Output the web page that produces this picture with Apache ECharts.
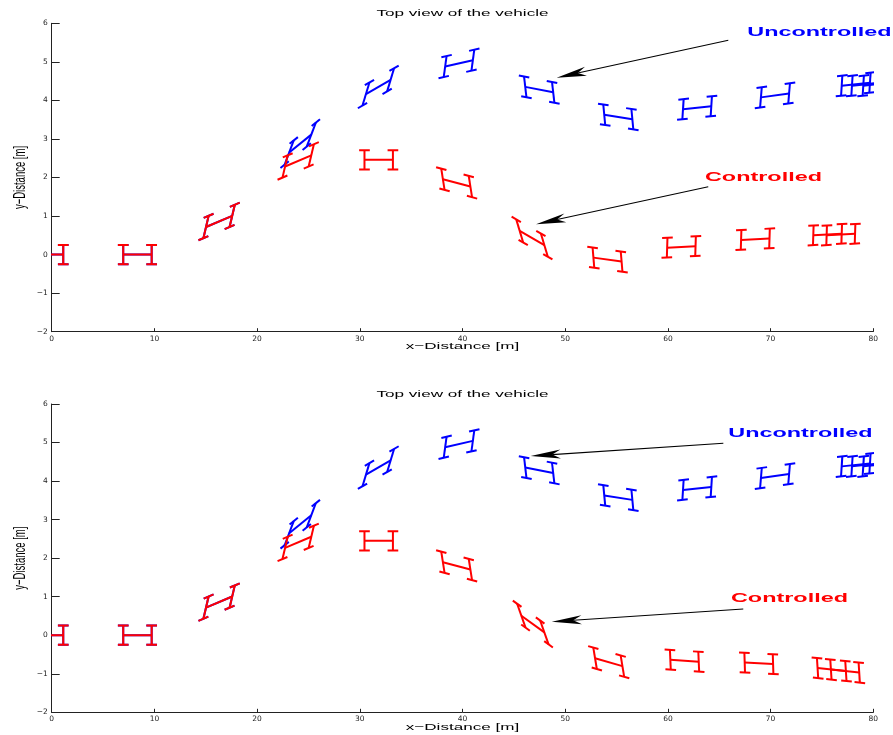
<!DOCTYPE html>
<html>
<head>
<meta charset="utf-8">
<script src="https://cdn.jsdelivr.net/npm/echarts@6/dist/echarts.min.js"></script>
<style>html,body{margin:0;padding:0;background:#fff}#c{width:893px;height:735px}</style>
</head>
<body>
<div id="c"></div>
<script>
// ---------- tick values ----------
const xTickValues = [0, 10, 20, 30, 40, 50, 60, 70, 80];
const yTickValues = [-2, -1, 0, 1, 2, 3, 4, 5, 6];

// ---------- vehicle snapshots: centre x [m], centre y [m], heading [deg] ----------
// Uncontrolled vehicle (same in both panels)
const uncontrolledX = [-0.26, 8.35, 16.3, 24.2, 31.8, 39.66, 47.47, 55.17, 62.85, 70.43, 78.3, 79.3, 80.4];
const uncontrolledY = [0, 0, 0.86, 2.88, 4.35, 4.96, 4.28, 3.57, 3.81, 4.13, 4.42, 4.42, 4.42];
const uncontrolledHeading = [0, 0, 23, 39, 30, 13, -11, -9, 6, 8, 6, 6, 6];

// Controlled vehicle, top panel
const controlledTopX = [-0.26, 8.35, 16.3, 24.0, 31.84, 39.43, 46.77, 54.12, 61.31, 68.51, 75.54, 76.84];
const controlledTopY = [0, 0, 0.86, 2.43, 2.46, 1.86, 0.43, -0.13, 0.20, 0.40, 0.52, 0.52];
const controlledTopHeading = [0, 0, 23, 23, 0, -15, -30, -8, 3, 3, 3, 3];

// Controlled vehicle, bottom panel
const controlledBottomX = [-0.26, 8.35, 16.3, 24.0, 31.84, 39.43, 46.85, 54.24, 61.62, 68.86, 75.95, 77.25];
const controlledBottomY = [0, 0, 0.86, 2.41, 2.45, 1.80, 0.29, -0.70, -0.66, -0.73, -0.89, -0.93];
const controlledBottomHeading = [0, 0, 23, 23, 0, -15, -36, -16, -4, -3, -6, -6];

// ---------- annotations (data coordinates) ----------
const annotationText = ['Uncontrolled', 'Controlled'];
const topLabelPos = [[67.73, 5.77], [63.61, 1.99]];
const topArrowFrom = [[65.88, 5.56], [63.93, 1.76]];
const topArrowTo = [[49.17, 4.59], [47.16, 0.79]];
const bottomLabelPos = [[65.88, 5.23], [66.14, 0.965]];
const bottomArrowFrom = [[65.4, 4.98], [67.34, 0.68]];
const bottomArrowTo = [[46.64, 4.65], [48.69, 0.35]];

// ---------- vehicle geometry / styling ----------
const HALF_WHEELBASE = 1.385; // x-units
const HALF_TRACK = 0.25;      // y-units
const HALF_WHEEL = 0.52;      // x-units
const AXLE_LEAN = 0.6;
const AXLE_GROW = 0.4;
const BLUE = '#0000ff', RED = '#ff0000';
const STRETCH = 1.8; // horizontal stretch of the lettering
const FONT = 'Liberation Sans, Arial, sans-serif';

function vehicleRenderer(color) {
  return function (params, api) {
    const c = api.coord([api.value(0), api.value(1)]);
    const th = api.value(2) * Math.PI / 180;
    const s = api.size([1, 1]);
    const sx = s[0], sy = s[1];
    const ct = Math.cos(th), st = Math.sin(th);
    const bx = HALF_WHEELBASE * sx * ct, by = -HALF_WHEELBASE * sx * st;
    const halfBar = HALF_TRACK * sy * (1 + AXLE_GROW * Math.abs(st));
    const ax = AXLE_LEAN * halfBar * st, ay = -halfBar;
    const wx = HALF_WHEEL * sx * ct, wy = -HALF_WHEEL * sx * st;
    const rear = [c[0] - bx, c[1] - by], front = [c[0] + bx, c[1] + by];
    const segs = [[rear, front]];
    [rear, front].forEach(function (a) {
      const e1 = [a[0] + ax, a[1] + ay], e2 = [a[0] - ax, a[1] - ay];
      segs.push([e1, e2]);
      [e1, e2].forEach(function (e) {
        segs.push([[e[0] - wx, e[1] - wy], [e[0] + wx, e[1] + wy]]);
      });
    });
    return {
      type: 'group',
      children: segs.map(function (sg) {
        return {
          type: 'line',
          shape: { x1: sg[0][0], y1: sg[0][1], x2: sg[1][0], y2: sg[1][1] },
          style: { stroke: color, lineWidth: 2, lineCap: 'butt' }
        };
      })
    };
  };
}

function annotationRenderer(from, to) {
  const colors = [BLUE, RED];
  return function (params, api) {
    const i = params.dataIndex;
    const p = api.coord([api.value(0), api.value(1)]);
    const a = api.coord(from[i]);
    const b = api.coord(to[i]);
    let dx = b[0] - a[0], dy = b[1] - a[1];
    const len = Math.sqrt(dx * dx + dy * dy);
    dx /= len; dy /= len;
    const nx = -dy, ny = dx;
    const HL = 30, HW = 4.5;
    const back = [b[0] - HL * dx, b[1] - HL * dy];
    const notch = [b[0] - 0.72 * HL * dx, b[1] - 0.72 * HL * dy];
    return {
      type: 'group',
      children: [
        {
          type: 'line',
          shape: { x1: a[0], y1: a[1], x2: notch[0], y2: notch[1] },
          style: { stroke: '#000', lineWidth: 1.1 }
        },
        {
          type: 'polygon',
          shape: { points: [b, [back[0] + HW * nx, back[1] + HW * ny], notch, [back[0] - HW * nx, back[1] - HW * ny]] },
          style: { fill: '#000' }
        },
        {
          type: 'text',
          x: p[0], y: p[1], scaleX: STRETCH, scaleY: 1,
          style: {
            text: annotationText[i], fill: colors[i],
            fontSize: 13, fontWeight: 'bold', fontFamily: FONT,
            align: 'left', verticalAlign: 'middle',
            textAlign: 'left', textVerticalAlign: 'middle'
          }
        }
      ]
    };
  };
}

function toData(xs, ys, hs) {
  return xs.map(function (x, i) { return [x, ys[i], hs[i]]; });
}

const chart = echarts.init(document.getElementById('c'), null, { renderer: 'canvas' });

const grids = [
  { left: 51.7, top: 23.3, width: 821.6, height: 308.4 },
  { left: 51.7, top: 404, width: 821.6, height: 308.3 }
];

function labelFmt(v) { return String(v).replace('-', '\u2212'); }

function makeXAxis(gi) {
  return {
    gridIndex: gi, type: 'value',
    min: xTickValues[0], max: xTickValues[xTickValues.length - 1],
    interval: xTickValues[1] - xTickValues[0],
    axisLine: { show: true, onZero: false, lineStyle: { color: '#222', width: 1 } },
    axisTick: { show: true, inside: true, length: 3.5, lineStyle: { color: '#222' } },
    axisLabel: { show: true, fontSize: 7.5, fontFamily: 'DejaVu Sans', color: '#222', margin: 3, formatter: labelFmt },
    splitLine: { show: false }
  };
}
function makeYAxis(gi) {
  return {
    gridIndex: gi, type: 'value',
    min: yTickValues[0], max: yTickValues[yTickValues.length - 1],
    interval: yTickValues[1] - yTickValues[0],
    axisLine: { show: true, onZero: false, lineStyle: { color: '#222', width: 1 } },
    axisTick: { show: true, inside: true, length: 8, lineStyle: { color: '#222' } },
    axisLabel: { show: true, fontSize: 7.5, fontFamily: 'DejaVu Sans', color: '#222', margin: 4, formatter: labelFmt },
    splitLine: { show: false }
  };
}

function textEl(text, x, y, rot) {
  const el = {
    type: 'text', x: x, y: y,
    style: {
      text: text, fill: '#000', fontSize: 9.5, fontFamily: FONT,
      align: 'center', verticalAlign: 'middle',
      textAlign: 'center', textVerticalAlign: 'middle'
    }
  };
  if (rot) { el.rotation = Math.PI / 2; el.scaleX = 1; el.scaleY = STRETCH; }
  else { el.scaleX = STRETCH; el.scaleY = 1; }
  return el;
}

function vehicleSeries(name, data, color, gi, z) {
  return {
    type: 'custom', name: name, xAxisIndex: gi, yAxisIndex: gi, z: z,
    data: data, encode: { x: 0, y: 1 }, clip: true,
    renderItem: vehicleRenderer(color), silent: true, animation: false
  };
}

chart.setOption({
  animation: false,
  grid: grids,
  xAxis: [makeXAxis(0), makeXAxis(1)],
  yAxis: [makeYAxis(0), makeYAxis(1)],
  graphic: [
    textEl('Top view of the vehicle', 462.5, 13.7),
    textEl('x\u2212Distance [m]', 462.5, 346.5),
    textEl('y\u2212Distance [m]', 20.7, 177.5, true),
    textEl('Top view of the vehicle', 462.5, 394.5),
    textEl('x\u2212Distance [m]', 462.5, 727.5),
    textEl('y\u2212Distance [m]', 20.7, 558.2, true)
  ],
  series: [
    vehicleSeries('Uncontrolled', toData(uncontrolledX, uncontrolledY, uncontrolledHeading), BLUE, 0, 2),
    vehicleSeries('Controlled', toData(controlledTopX, controlledTopY, controlledTopHeading), RED, 0, 3),
    vehicleSeries('Uncontrolled', toData(uncontrolledX, uncontrolledY, uncontrolledHeading), BLUE, 1, 2),
    vehicleSeries('Controlled', toData(controlledBottomX, controlledBottomY, controlledBottomHeading), RED, 1, 3),
    {
      type: 'custom', xAxisIndex: 0, yAxisIndex: 0, clip: false, silent: true, z: 4,
      data: topLabelPos, encode: { x: 0, y: 1 },
      renderItem: annotationRenderer(topArrowFrom, topArrowTo)
    },
    {
      type: 'custom', xAxisIndex: 1, yAxisIndex: 1, clip: false, silent: true, z: 4,
      data: bottomLabelPos, encode: { x: 0, y: 1 },
      renderItem: annotationRenderer(bottomArrowFrom, bottomArrowTo)
    }
  ]
});
</script>
</body>
</html>
